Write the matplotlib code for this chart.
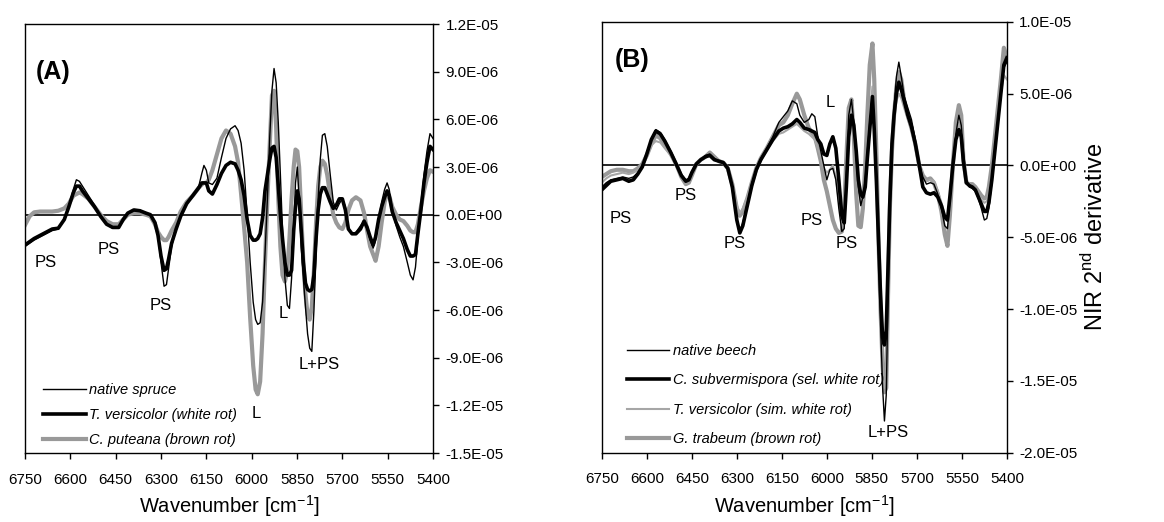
import numpy as np
import matplotlib.pyplot as plt
from matplotlib.ticker import FuncFormatter

plt.rcParams['font.family'] = ['Liberation Sans', 'DejaVu Sans']

# ---- panel A: spruce (values in 1E-06) ----
wn_a = [6750, 6735, 6720, 6700, 6680, 6660, 6640, 6620, 6605, 6590,
        6580, 6570, 6560, 6540, 6520, 6500, 6480, 6460, 6440, 6425,
        6410, 6390, 6370, 6350, 6335, 6320, 6310, 6300, 6290, 6282,
        6275, 6265, 6250, 6235, 6215, 6195, 6175, 6165, 6158, 6150,
        6142, 6130, 6115, 6100, 6085, 6070, 6055, 6045, 6035, 6025,
        6015, 6005, 5995, 5987, 5980, 5972, 5964, 5956, 5948, 5940,
        5933, 5926, 5919, 5912, 5905, 5898, 5890, 5882, 5875, 5868,
        5861, 5855, 5849, 5843, 5836, 5829, 5822, 5815, 5808, 5801,
        5794, 5787, 5780, 5773, 5766, 5758, 5750, 5740, 5730, 5720,
        5710, 5700, 5690, 5680, 5668, 5655, 5640, 5628, 5618, 5608,
        5598, 5590, 5580, 5570, 5560, 5552, 5545, 5535, 5522, 5510,
        5498, 5485, 5475, 5466, 5458, 5450, 5440, 5430, 5420, 5410,
        5400]
native_spruce = [-2.0, -1.8, -1.6, -1.4, -1.2, -1.0, -0.9, -0.3, 0.5, 1.6,
                 2.2, 2.1, 1.8, 1.2, 0.6, -0.1, -0.6, -0.85, -0.8, -0.3,
                 0.1, 0.25, 0.3, 0.1, 0.0, -0.5, -1.3, -3.0, -4.5, -4.4,
                 -3.4, -2.0, -0.9, 0.0, 0.7, 1.2, 1.8, 2.6, 3.1, 2.8,
                 2.0, 1.9, 2.3, 3.6, 4.8, 5.4, 5.6, 5.3, 4.5, 2.8,
                 0.0, -3.0, -5.5, -6.6, -6.9, -6.8, -5.5, -2.5, 1.0, 5.0,
                 7.8, 9.2, 8.3, 5.8, 2.5, -1.0, -4.0, -5.7, -5.9, -4.0,
                 -0.8, 2.0, 3.0, 1.0, -2.0, -4.0, -5.8, -7.5, -8.4, -8.6,
                 -6.0, -2.5, 1.0, 3.5, 5.0, 5.1, 4.3, 2.5, 0.8, 0.3,
                 0.7, 1.0, 0.5, -0.9, -1.2, -1.1, -0.7, -0.4, -0.9, -1.6,
                 -2.1, -1.6, -0.3, 0.8, 1.6, 2.0, 1.6, 0.4, -0.7, -1.4,
                 -2.0, -3.0, -3.8, -4.1, -3.3, -1.5, 0.5, 2.5, 4.0, 5.1,
                 4.8]
t_versicolor_a = [-1.9, -1.7, -1.5, -1.3, -1.1, -0.9, -0.85, -0.3, 0.5, 1.4,
                  1.8, 1.8, 1.5, 1.0, 0.5, -0.1, -0.6, -0.8, -0.8, -0.3,
                  0.1, 0.3, 0.25, 0.1, 0.0, -0.5, -1.3, -2.6, -3.5, -3.4,
                  -2.8, -1.8, -0.9, -0.1, 0.7, 1.2, 1.7, 2.0, 2.0, 2.0,
                  1.5, 1.3, 1.9, 2.6, 3.1, 3.3, 3.2, 2.8, 2.2, 1.2,
                  -0.3, -1.3, -1.6, -1.6, -1.5, -1.2, -0.2, 1.5, 2.5, 3.5,
                  4.2, 4.3, 3.6, 1.8, 0.0, -1.5, -3.0, -3.8, -3.8, -3.5,
                  -1.0, 0.5, 1.5, 1.0, -1.0, -3.0, -4.3, -4.7, -4.8, -4.7,
                  -3.8, -1.5, 0.3, 1.3, 1.7, 1.7, 1.3, 0.8, 0.4, 0.6,
                  1.0, 1.0, 0.3, -0.9, -1.2, -1.2, -0.9, -0.4, -0.8, -1.4,
                  -1.9, -1.4, -0.3, 0.5, 1.1, 1.5, 1.2, 0.2, -0.5, -1.0,
                  -1.5, -2.2, -2.6, -2.6, -2.5, -1.2, 0.3, 2.0, 3.3, 4.3,
                  4.1]
c_puteana = [-0.65, -0.1, 0.15, 0.2, 0.2, 0.2, 0.25, 0.4, 0.7, 1.2,
             1.3, 1.4, 1.3, 1.0, 0.5, 0.0, -0.4, -0.6, -0.6, -0.3,
             0.0, 0.1, 0.1, 0.0, -0.1, -0.6, -1.1, -1.4, -1.6, -1.6,
             -1.4, -1.0, -0.5, 0.2, 0.8, 1.2, 1.7, 1.9, 2.0, 2.0,
             2.2, 2.8, 3.8, 4.8, 5.3, 5.1, 4.3, 3.3, 1.3, -0.8,
             -3.0, -6.5, -9.5, -11.0, -11.3, -10.5, -7.5, -3.0, 1.0, 4.5,
             7.5, 7.8, 5.5, 1.0, -2.0, -3.8, -4.2, -3.5, -1.5, 1.0,
             3.0, 4.1, 4.0, 3.0, 0.0, -3.0, -5.0, -6.3, -6.6, -5.8,
             -3.5, -0.5, 1.8, 3.0, 3.4, 3.2, 2.5, 1.2, 0.0, -0.5,
             -0.8, -0.9, -0.5, 0.3, 0.9, 1.1, 0.9, 0.1, -1.0, -2.0,
             -2.5, -2.9, -2.0, -0.5, 0.8, 1.3, 1.2, 0.5, 0.0, -0.3,
             -0.4, -0.7, -1.0, -1.1, -1.1, -0.6, 0.5, 1.5, 2.3, 2.8,
             2.7]

# ---- panel B: beech (values in 1E-06) ----
wn_b = [6750, 6735, 6720, 6700, 6680, 6660, 6645, 6630, 6615, 6600,
        6585, 6570, 6555, 6540, 6520, 6500, 6485, 6470, 6460, 6450,
        6435, 6420, 6405, 6390, 6375, 6360, 6345, 6330, 6315, 6300,
        6290, 6280, 6265, 6250, 6235, 6220, 6200, 6180, 6160, 6145,
        6130, 6115, 6100, 6090, 6075, 6060, 6050, 6040, 6030, 6020,
        6010, 6000, 5990, 5980, 5970, 5960, 5950, 5942, 5935, 5927,
        5918, 5910, 5902, 5895, 5887, 5880, 5872, 5865, 5857, 5848,
        5842, 5835, 5828, 5821, 5814, 5808, 5802, 5796, 5790, 5783,
        5776, 5768, 5760, 5752, 5742, 5730, 5718, 5705, 5692, 5680,
        5668, 5655, 5643, 5630, 5618, 5607, 5598, 5590, 5580, 5570,
        5560, 5552, 5545, 5535, 5525, 5515, 5505, 5495, 5485, 5475,
        5467, 5460, 5450, 5440, 5430, 5420, 5410, 5400]
native_beech = [-1.5, -1.2, -1.0, -0.9, -0.8, -0.9, -0.8, -0.5, 0.0, 0.8,
                1.8, 2.5, 2.3, 1.8, 1.0, 0.1, -0.6, -1.0, -0.9, -0.4,
                0.1, 0.4, 0.7, 0.8, 0.5, 0.3, 0.2, -0.2, -1.5, -3.8,
                -4.6, -4.0, -2.6, -1.3, -0.2, 0.5, 1.2, 2.0, 3.0, 3.4,
                3.8, 4.5, 4.3, 3.5, 3.0, 3.2, 3.6, 3.4, 2.0, 1.0,
                0.0, -1.0, -0.3, -0.2, -1.0, -3.0, -4.6, -4.4, -1.0, 3.5,
                4.6, 3.0, 0.5, -1.5, -2.8, -2.2, -1.0, 1.0, 3.0, 4.5,
                2.5, -1.5, -6.0, -11.0, -15.5, -17.8, -16.0, -9.0, -3.5, 0.5,
                4.0, 6.2, 7.2, 6.2, 4.8, 4.0, 3.2, 1.8, 0.2, -0.8,
                -1.3, -1.2, -1.3, -2.0, -3.0, -4.2, -4.4, -2.5, 0.0, 2.2,
                3.5, 2.8, 1.0, -1.0, -1.5, -1.6, -1.8, -2.3, -3.0, -3.8,
                -3.7, -3.0, -1.2, 0.8, 3.0, 5.0, 6.8, 7.2]
c_subvermispora = [-1.7, -1.4, -1.1, -1.0, -0.9, -1.1, -1.0, -0.6, -0.1, 0.8,
                   1.8, 2.4, 2.2, 1.7, 0.9, 0.0, -0.7, -1.1, -1.0, -0.5,
                   0.1, 0.4, 0.6, 0.7, 0.4, 0.3, 0.2, -0.2, -1.5, -3.8,
                   -4.7, -4.2, -2.8, -1.4, -0.3, 0.4, 1.1, 1.8, 2.4, 2.6,
                   2.7, 2.9, 3.2, 3.0, 2.6, 2.5, 2.4, 2.3, 1.8, 1.5,
                   0.8, 0.7, 1.5, 2.0, 1.2, -1.0, -3.5, -4.0, -1.5, 2.0,
                   3.5, 2.8, 1.0, -1.0, -2.0, -2.2, -1.5, 0.5, 2.5, 4.8,
                   2.5, -1.0, -5.0, -9.0, -12.0, -12.5, -11.5, -7.0, -2.5, 1.5,
                   3.5, 5.0, 5.8, 5.3, 4.5, 3.5, 2.7, 1.5, 0.0, -1.5,
                   -1.9, -2.0, -1.9, -2.2, -2.8, -3.6, -3.8, -2.2, 0.0, 1.8,
                   2.5, 2.0, 0.3, -1.2, -1.4, -1.5, -1.7, -2.2, -2.7, -3.2,
                   -3.2, -2.6, -1.0, 1.0, 3.0, 5.0, 7.0, 7.5]
t_versicolor_b = [-1.2, -0.9, -0.7, -0.6, -0.5, -0.6, -0.5, -0.3, 0.0, 0.6,
                  1.4, 1.7, 1.6, 1.2, 0.7, 0.0, -0.7, -1.2, -1.1, -0.6,
                  0.1, 0.4, 0.6, 0.7, 0.5, 0.3, 0.2, -0.2, -1.3, -2.8,
                  -3.3, -3.0, -2.2, -1.1, -0.2, 0.5, 1.1, 1.7, 2.2, 2.3,
                  2.5, 2.7, 2.9, 2.7, 2.4, 2.2, 2.0, 1.8, 1.2, 0.6,
                  -0.2, -0.5, -0.3, 0.0, -0.8, -2.5, -4.0, -3.6, -1.0, 2.5,
                  4.3, 2.5, 0.2, -1.5, -2.6, -2.4, -1.3, 0.8, 3.0, 5.5,
                  3.0, -1.0, -5.5, -10.0, -14.0, -15.5, -14.5, -8.0, -2.5, 1.5,
                  3.5, 4.5, 5.0, 4.7, 4.0, 3.2, 2.5, 1.3, 0.0, -0.9,
                  -1.1, -1.0, -1.1, -1.8, -2.6, -3.5, -3.8, -2.2, 0.0, 2.0,
                  3.0, 2.4, 0.8, -1.0, -1.3, -1.4, -1.6, -2.0, -2.4, -2.6,
                  -2.5, -2.0, -0.8, 1.2, 3.2, 5.0, 6.3, 6.0]
g_trabeum = [-0.8, -0.6, -0.4, -0.3, -0.3, -0.4, -0.4, -0.2, 0.1, 0.7,
             1.5, 2.1, 1.9, 1.4, 0.8, 0.0, -0.8, -1.3, -1.2, -0.7,
             0.1, 0.4, 0.6, 0.9, 0.6, 0.3, 0.2, -0.2, -1.3, -3.0,
             -3.5, -3.2, -2.3, -1.2, -0.2, 0.5, 1.2, 2.0, 2.8, 3.0,
             3.5, 4.3, 5.0, 4.6, 3.5, 2.6, 2.3, 2.0, 1.2, 0.3,
             -1.0, -1.8, -2.8, -3.8, -4.4, -4.7, -4.6, -3.0, 0.5, 4.0,
             4.6, 2.0, -2.0, -4.2, -4.3, -3.0, 0.0, 3.5, 7.0, 8.5,
             6.0, 1.0, -5.0, -10.0, -14.0, -15.8, -15.5, -9.0, -3.0, 1.0,
             3.5, 5.5, 6.5, 6.0, 4.5, 3.5, 2.6, 1.5, 0.0, -0.7,
             -1.0, -0.9, -1.2, -2.0, -3.2, -4.8, -5.6, -3.5, 0.0, 3.0,
             4.2, 3.5, 0.5, -1.2, -1.3, -1.3, -1.5, -1.8, -2.1, -2.3,
             -2.2, -1.5, 0.0, 2.0, 4.0, 6.0, 8.2, 7.5]

# band labels: (text, wavenumber, value in 1E-06)
labels_a = [("PS", 6680, -3.0), ("PS", 6474, -2.2), ("PS", 6300, -5.7),
            ("L", 5986, -12.5), ("L", 5896, -6.2), ("L+PS", 5776, -9.45)]
labels_b = [("PS", 6687, -3.7), ("PS", 6472, -2.1), ("PS", 6306, -5.45),
            ("PS", 6050, -3.8), ("PS", 5933, -5.45), ("L", 5987, 4.4),
            ("L+PS", 5795, -18.6)]

# y ticks in units of 1E-06
yticks_a = [-15, -12, -9, -6, -3, 0, 3, 6, 9, 12]
yticks_b = [-20, -15, -10, -5, 0, 5, 10]

gray = '#999999'
light_gray = '#a6a6a6'
sci = FuncFormatter(lambda v, pos: f"{v:.1E}")


def style_axis(ax, yticks):
    ax.set_xlim(6750, 5400)
    ax.set_xticks(np.arange(6750, 5399, -150))
    ax.set_ylim(yticks[0] * 1e-6, yticks[-1] * 1e-6)
    ax.set_yticks([t * 1e-6 for t in yticks])
    ax.yaxis.set_major_formatter(sci)
    ax.yaxis.tick_right()
    ax.tick_params(direction='out', length=4, width=1, labelsize=11, pad=5)
    ax.tick_params(axis='x', pad=10)
    for s in ax.spines.values():
        s.set_linewidth(1.0)
    ax.axhline(0, color='black', lw=1.2, zorder=1)
    ax.set_xlabel("Wavenumber [cm$^{\\mathregular{-1}}$]", fontsize=14.5, labelpad=5)


fig = plt.figure(figsize=(11.64, 5.22), dpi=100)
ax1 = fig.add_axes([0.0215, 0.132, 0.3505, 0.822])
ax2 = fig.add_axes([0.517, 0.133, 0.348, 0.825])

x = np.array(wn_a)
l3, = ax1.plot(x, np.array(c_puteana) * 1e-6, color=gray, lw=3, label="C. puteana (brown rot)")
l2, = ax1.plot(x, np.array(t_versicolor_a) * 1e-6, color='black', lw=2.6, label="T. versicolor (white rot)")
l1, = ax1.plot(x, np.array(native_spruce) * 1e-6, color='black', lw=1.0, label="native spruce")
style_axis(ax1, yticks_a)
ax1.legend(handles=[l1, l2, l3], loc='lower left', bbox_to_anchor=(0.045, 0.015),
           frameon=False, prop={'style': 'italic', 'size': 10.5}, handlelength=2.9,
           handletextpad=0.25, labelspacing=0.75, borderpad=0, borderaxespad=0)
ax1.text(6657, 9.0e-6, "(A)", fontsize=18, fontweight='bold', ha='center', va='center')
for t, w, v in labels_a:
    ax1.text(w, v * 1e-6, t, fontsize=12, ha='center', va='center')

x = np.array(wn_b)
m4, = ax2.plot(x, np.array(g_trabeum) * 1e-6, color=gray, lw=3, label="G. trabeum (brown rot)")
m3, = ax2.plot(x, np.array(t_versicolor_b) * 1e-6, color=light_gray, lw=1.5, label="T. versicolor (sim. white rot)")
m2, = ax2.plot(x, np.array(c_subvermispora) * 1e-6, color='black', lw=2.6, label="C. subvermispora (sel. white rot)")
m1, = ax2.plot(x, np.array(native_beech) * 1e-6, color='black', lw=1.0, label="native beech")
style_axis(ax2, yticks_b)
ax2.legend(handles=[m1, m2, m3, m4], loc='lower left', bbox_to_anchor=(0.062, 0.015),
           frameon=False, prop={'style': 'italic', 'size': 10.5}, handlelength=2.9,
           handletextpad=0.25, labelspacing=1.05, borderpad=0, borderaxespad=0)
ax2.text(6650, 7.33e-6, "(B)", fontsize=18, fontweight='bold', ha='center', va='center')
for t, w, v in labels_b:
    ax2.text(w, v * 1e-6, t, fontsize=12, ha='center', va='center')
ax2.yaxis.set_label_position('right')
ax2.set_ylabel("NIR 2$^{\\mathregular{nd}}$ derivative", fontsize=17, labelpad=3)

plt.savefig("out.png", dpi=100)
